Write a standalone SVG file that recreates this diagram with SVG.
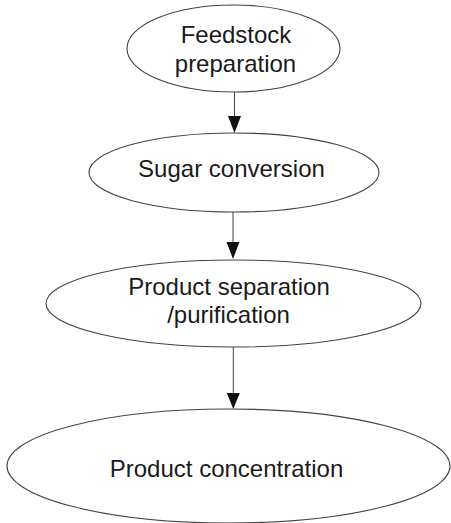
<svg xmlns="http://www.w3.org/2000/svg" width="451" height="523" viewBox="0 0 451 523">
<style>
.node ellipse{fill:none;stroke:#444;stroke-width:1.1}
.node text{font-family:"Liberation Sans",Arial,sans-serif;font-size:24px;fill:#1a1a1a;text-anchor:middle}
.conn line{stroke:#444;stroke-width:1}
.conn polygon{fill:#111}
</style>
<rect width="451" height="523" fill="#ffffff"/>
<g id="connectors" class="conn">
<line x1="234.5" y1="92" x2="234.5" y2="118"/>
<polygon points="228,116 241,116 234.5,133"/>
<line x1="233" y1="212" x2="233" y2="244"/>
<polygon points="226.5,242 239.5,242 233,259"/>
<line x1="233.3" y1="347" x2="233.3" y2="395"/>
<polygon points="226.8,393 239.8,393 233.3,409"/>
</g>
<g id="feedstock" class="node">
<ellipse cx="233.5" cy="48.5" rx="106.5" ry="43.5"/>
<text x="236" y="43">Feedstock</text>
<text x="235.5" y="72">preparation</text>
</g>
<g id="sugar" class="node">
<ellipse cx="234" cy="172.5" rx="145" ry="39.5"/>
<text x="231.5" y="177">Sugar conversion</text>
</g>
<g id="separation" class="node">
<ellipse cx="233.5" cy="303.5" rx="187.5" ry="43.5"/>
<text x="229" y="295">Product separation</text>
<text x="228.5" y="323">/purification</text>
</g>
<g id="concentration" class="node">
<ellipse cx="228.5" cy="466" rx="221.5" ry="57"/>
<text x="226.5" y="477">Product concentration</text>
</g>
</svg>
